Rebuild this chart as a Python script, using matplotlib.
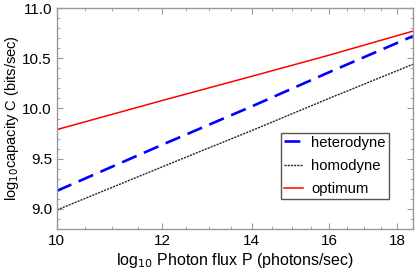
import numpy as np
import matplotlib
matplotlib.use("Agg")
import matplotlib.pyplot as plt
from matplotlib.ticker import FixedLocator, NullFormatter, MultipleLocator

plt.rcParams['font.family'] = ['Liberation Sans', 'DejaVu Sans']

# log10 photon flux
logP = [10, 12, 14, 16, 18.5]
heterodyne = [9.18, 9.64, 10.02, 10.36, 10.72]
homodyne = [8.99, 9.42, 9.78, 10.10, 10.44]
optimum = [9.79, 10.08, 10.32, 10.53, 10.77]

xticks = [10, 12, 14, 16, 18]
yticks = [9.0, 9.5, 10.0, 10.5, 11.0]

fig = plt.figure(figsize=(4.15, 2.76), dpi=100)
ax = fig.add_axes([0.137, 0.170, 0.858, 0.801])

ax.plot(logP, heterodyne, color="blue", lw=1.9, ls=(0, (6, 3)), label="heterodyne")
ax.plot(logP, homodyne, color="#222222", lw=1.0, ls=(0, (1.5, 0.8)), label="homodyne")
ax.plot(logP, optimum, color="red", lw=1.1, label="optimum")

ax.set_xscale("log")
ax.set_xlim(10, 18.5)
ax.set_ylim(8.8, 11.0)

ax.xaxis.set_major_locator(FixedLocator(xticks))
ax.set_xticklabels([str(t) for t in xticks])
ax.xaxis.set_minor_locator(FixedLocator(np.arange(10, 18.6, 0.5)))
ax.xaxis.set_minor_formatter(NullFormatter())
ax.yaxis.set_major_locator(FixedLocator(yticks))
ax.set_yticklabels(["%.1f" % t for t in yticks])
ax.yaxis.set_minor_locator(MultipleLocator(0.1))

ax.tick_params(which="both", direction="in", top=True, right=True,
               color="#999999", labelsize=11, labelcolor="black")
ax.tick_params(which="major", length=4, width=0.8)
ax.tick_params(which="minor", length=2, width=0.6)
for s in ax.spines.values():
    s.set_color("#999999")
    s.set_linewidth(1.0)

ax.set_xlabel("log$_{10}$ Photon flux P (photons/sec)", fontsize=11.5, labelpad=2)
ax.set_ylabel("log$_{10}$capacity C (bits/sec)", fontsize=10.5, labelpad=1)

leg = ax.legend(loc="lower left", bbox_to_anchor=(0.629, 0.136), borderaxespad=0,
                fancybox=False, framealpha=1, edgecolor="#555555", fontsize=10.7,
                handlelength=1.3, handletextpad=0.55, labelspacing=0.62,
                borderpad=0.2)
leg.get_frame().set_linewidth(1.0)

fig.savefig("out.png", dpi=100)
